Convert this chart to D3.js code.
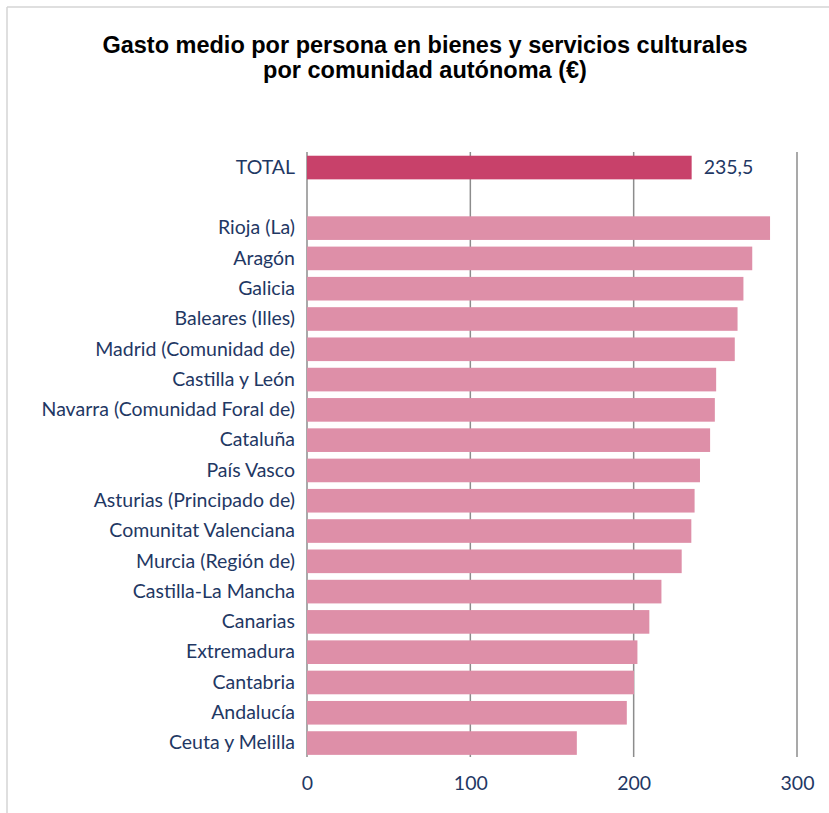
<!DOCTYPE html>
<html><head><meta charset="utf-8">
<script src="https://cdn.jsdelivr.net/npm/d3@7"></script>
<style>body{margin:0;background:#fff}svg{display:block}</style>
</head><body>
<script>
const categories = ["TOTAL","","Rioja (La)","Aragón","Galicia ","Baleares (Illes)","Madrid (Comunidad de)","Castilla y León","Navarra (Comunidad Foral de)","Cataluña","País Vasco","Asturias (Principado de)","Comunitat Valenciana ","Murcia (Región de)","Castilla-La Mancha","Canarias","Extremadura","Cantabria","Andalucía","Ceuta y Melilla"];
const values = [235.5,null,283.5,272.6,267.2,263.6,261.9,250.5,249.7,246.8,240.6,237.3,235.3,229.4,217.0,209.6,202.3,200.2,195.8,165.2];
const ticks = [0,100,200,300];
const title = ["Gasto medio por persona en bienes y servicios culturales","por comunidad autónoma (€)"];
const totalLabel = "235,5";

const W=829,H=813;
const svg=d3.select("body").append("svg").attr("width",W).attr("height",H);
// frame
svg.append("line").attr("x1",7).attr("x2",W).attr("y1",7).attr("y2",7).attr("stroke","#d4d4d4").attr("stroke-width",1.5);
svg.append("line").attr("x1",7).attr("x2",7).attr("y1",7).attr("y2",H).attr("stroke","#d4d4d4").attr("stroke-width",1.5);

svg.append("g").selectAll("text").data(title).join("text")
  .attr("x",425).attr("y",(d,i)=>53+i*25).attr("text-anchor","middle")
  .attr("font-family","Liberation Sans, Arial, sans-serif").attr("font-weight","bold")
  .attr("font-size",23.5).attr("fill","#000").text(d=>d);

const x=d3.scaleLinear().domain([0,300]).range([307,797]);
const y=d3.scaleBand().domain(categories.map((c,i)=>i)).range([152.4,758.2]).paddingInner(0.22).paddingOuter(0.11);

const font="Lato, 'Open Sans', sans-serif";
const navy="#1f3864";
const fs=19.5;

// gridlines
svg.append("g").selectAll("line").data(ticks).join("line")
  .attr("x1",d=>x(d)).attr("x2",d=>x(d)).attr("y1",152).attr("y2",757)
  .attr("stroke","#8c8c8c").attr("stroke-width",1.5);

// bars
svg.append("g").selectAll("rect").data(values.map((v,i)=>({v,i})).filter(d=>d.v!=null)).join("rect")
  .attr("x",x(0)).attr("y",d=>y(d.i)).attr("height",y.bandwidth())
  .attr("width",d=>x(d.v)-x(0))
  .attr("fill",d=>d.i===0?"#c8416a":"#de8fa8");

// category labels
const yAxis=d3.axisLeft(y).tickSize(0).tickPadding(12).tickFormat(i=>categories[i]);
const ga=svg.append("g").attr("transform",`translate(${x(0)},0)`).call(yAxis);
ga.select(".domain").remove();
ga.selectAll("text").attr("font-family",font).attr("font-size",fs).attr("fill",navy);

// x axis labels
const xAxis=d3.axisBottom(x).tickValues(ticks).tickSize(0).tickPadding(19).tickFormat(d3.format("d"));
const gx=svg.append("g").attr("transform",`translate(0,757)`).call(xAxis);
gx.select(".domain").remove();
gx.selectAll("text").attr("font-family",font).attr("font-size",fs).attr("fill",navy);

// value label on total
svg.append("text").attr("x",x(values[0])+12).attr("y",y(0)+y.bandwidth()/2).attr("dy","0.35em")
  .attr("font-family",font).attr("font-size",fs).attr("fill",navy).text(totalLabel);
</script>
</body></html>
